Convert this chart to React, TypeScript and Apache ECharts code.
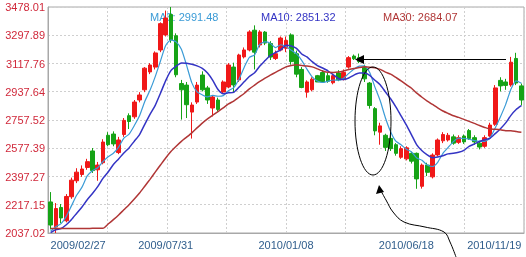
import React, { useEffect, useRef } from "react";
import * as echarts from "echarts";

const dates = [
  "2009/02/27","2009/03/06","2009/03/13","2009/03/20","2009/03/27","2009/04/03","2009/04/10","2009/04/17","2009/04/24","2009/05/01",
  "2009/05/08","2009/05/15","2009/05/22","2009/05/29","2009/06/05","2009/06/12","2009/06/19","2009/06/26","2009/07/03","2009/07/10",
  "2009/07/17","2009/07/24","2009/07/31","2009/08/07","2009/08/14","2009/08/21","2009/08/28","2009/09/04","2009/09/11","2009/09/18",
  "2009/09/25","2009/10/02","2009/10/09","2009/10/16","2009/10/23","2009/10/30","2009/11/06","2009/11/13","2009/11/20","2009/11/27",
  "2009/12/04","2009/12/11","2009/12/18","2009/12/25","2010/01/01","2010/01/08","2010/01/15","2010/01/22","2010/01/29","2010/02/05",
  "2010/02/12","2010/02/19","2010/02/26","2010/03/05","2010/03/12","2010/03/19","2010/03/26","2010/04/02","2010/04/09","2010/04/16",
  "2010/04/23","2010/04/30","2010/05/07","2010/05/14","2010/05/21","2010/05/28","2010/06/04","2010/06/11","2010/06/18","2010/06/25",
  "2010/07/02","2010/07/09","2010/07/16","2010/07/23","2010/07/30","2010/08/06","2010/08/13","2010/08/20","2010/08/27","2010/09/03",
  "2010/09/10","2010/09/17","2010/09/24","2010/10/01","2010/10/08","2010/10/15","2010/10/22","2010/10/29","2010/11/05","2010/11/12",
  "2010/11/19"
];

const opens = [
  2235,2075,2200,2115,2268,2370,2410,2455,2560,2440,
  2485,2660,2668,2550,2665,2785,2778,2885,2950,3064,
  3095,3204,3300,3430,3295,2990,2980,2808,2872,3044,
  2962,2834,2885,2936,2968,3095,3013,3160,3204,3330,
  3236,3318,3245,3150,3204,3215,3300,3180,3080,2935,
  2950,3040,3060,3040,2995,3057,3020,3095,3165,3155,
  3095,2993,2830,2680,2660,2640,2600,2520,2510,2545,
  2545,2335,2470,2395,2535,2625,2630,2650,2615,2655,
  2690,2645,2610,2590,2655,2730,3010,3000,2981,3150,
  2975
];
const closes = [
  2088,2193,2133,2270,2374,2425,2445,2492,2435,2470,
  2617,2600,2605,2630,2755,2748,2872,2917,3088,3108,
  3185,3372,3408,3268,3046,2950,2855,2853,2980,2950,
  2885,2904,2825,3000,3108,2981,3172,3204,3319,3190,
  3319,3248,3159,3180,3280,3265,3130,3050,2965,3000,
  3018,3000,3000,3005,3040,3013,3060,3155,3148,3130,
  3020,2850,2688,2720,2583,2575,2545,2575,2580,2495,
  2382,2470,2424,2534,2630,2665,2660,2610,2645,2618,
  2640,2618,2585,2645,2725,2962,2975,2978,3126,2993,
  2885
];
const lows = [
  2060,2037.02,2100,2105,2255,2355,2395,2440,2420,2370,
  2475,2590,2590,2540,2650,2700,2765,2870,2935,3050,
  3080,3190,3290,3250,3030,2760,2770,2639,2860,2940,
  2860,2780,2810,2925,2960,2930,3000,3150,3195,3080,
  3220,3235,3140,3140,3195,3190,3110,3030,2960,2900,
  2940,3000,3000,2995,2985,3005,3010,3085,3140,3120,
  3000,2830,2660,2600,2560,2560,2530,2510,2500,2480,
  2319,2320,2400,2385,2525,2610,2620,2600,2605,2605,
  2630,2600,2570,2580,2650,2720,2940,2950,2970,2980,
  2850
];
const highs = [
  2298,2228,2222,2285,2390,2450,2468,2510,2579,2490,
  2635,2680,2685,2650,2770,2800,2885,2935,3095,3120,
  3195,3380,3455,3478.01,3310,3013,3000,2870,3000,3068,
  2975,2915,2900,3010,3120,3123,3180,3220,3330,3361,
  3330,3325,3260,3200,3290,3290,3310,3200,3095,3010,
  3030,3045,3075,3060,3050,3075,3080,3165,3175,3181,
  3110,3000,2840,2740,2670,2660,2610,2590,2590,2555,
  2550,2480,2485,2545,2640,2680,2675,2665,2660,2665,
  2700,2660,2625,2660,2740,2980,3030,3020,3160,3186,
  2990
];
// weekly closes before the first visible week, used only to seed the moving averages
const priorCloses = [
  2200,2140,2260,2370,2420,2440,2490,2430,2470,2610,
  1780,1760,1740,1760,1780,1790,1770,1780,1790,1800,
  2020,2050,2030,2040,2020,2050,2030,2040,2032
];

const yTickLabels = ["2037.02","2217.15","2397.27","2577.39","2757.52","2937.64","3117.76","3297.89","3478.01"];
const xLabelIndices = [0, 22, 45, 68, 90];
const maNames = ["MA5", "MA10", "MA30"];
const maPeriods = [5, 10, 30];
const maLegendValues = ["2991.48", "2851.32", "2684.07"];
const maColors = ["#3b9bd6", "#3434c4", "#b03636"];

const Y_MIN = 2037.02;
const Y_MAX = 3478.01;
const Y_INT = (Y_MAX - Y_MIN) / 8;

function movingAverage(n: number): number[] {
  const all = [...priorCloses, ...closes];
  const p = priorCloses.length;
  return closes.map((_, i) => {
    let s = 0;
    for (let k = p + i - n + 1; k <= p + i; k++) s += all[k];
    return +(s / n).toFixed(2);
  });
}

export default function App() {
  const ref = useRef<HTMLDivElement>(null);
  useEffect(() => {
    if (!ref.current) return;
    const chart = echarts.init(ref.current, undefined, { renderer: "svg" });
    const font = "'Liberation Sans', Arial, sans-serif";
    const candleData = dates.map((_, i) => [opens[i], closes[i], lows[i], highs[i]]);
    const legendX = [150, 261, 383];

    chart.setOption({
      animation: false,
      grid: { left: 48, right: 2, top: 7, bottom: 24, show: true, borderColor: "#a8a8a8", borderWidth: 1 },
      xAxis: [
        {
          type: "category",
          data: dates,
          boundaryGap: true,
          axisLine: { show: true, lineStyle: { color: "#a8a8a8" } },
          axisTick: { show: false },
          splitLine: { show: false },
          axisLabel: {
            interval: (idx: number) => xLabelIndices.includes(idx),
            color: "#2f5d8c",
            fontSize: 11,
            fontFamily: font,
            margin: 6,
            alignMinLabel: "left",
            alignMaxLabel: "right",
          },
        },
        {
          type: "value",
          min: 0,
          max: 8,
          interval: 1,
          position: "top",
          axisLine: { show: false },
          axisTick: { show: false },
          axisLabel: { show: false },
          splitLine: { show: true, lineStyle: { color: "#cfcfcf", type: [2, 2] } },
        },
      ],
      yAxis: {
        type: "value",
        min: Y_MIN,
        max: Y_MAX,
        interval: Y_INT,
        axisLine: { show: true, lineStyle: { color: "#a8a8a8" } },
        axisTick: { show: false },
        axisLabel: {
          color: "#d0283a",
          fontSize: 11,
          fontFamily: font,
          margin: 3,
          formatter: (v: number) => yTickLabels[Math.round((v - Y_MIN) / Y_INT)] ?? "",
        },
        splitLine: { show: true, lineStyle: { color: "#cfcfcf", type: [2, 2] } },
      },
      series: [
        {
          type: "candlestick",
          data: candleData,
          barWidth: "78%",
          itemStyle: {
            color: "#f01818",
            color0: "#16a316",
            borderColor: "#f01818",
            borderColor0: "#16a316",
            borderWidth: 1,
          },
        },
        ...maPeriods.map((n, k) => ({
          type: "line",
          name: maNames[k],
          data: movingAverage(n),
          symbol: "none",
          smooth: 0.2,
          lineStyle: { color: maColors[k], width: k === 0 ? 1.2 : 1.5 },
          z: 3,
        })),
      ],
      graphic: [
        ...maNames.map((nm, k) => ({
          type: "text",
          left: legendX[k],
          top: 11,
          z: 0,
          style: { text: `${nm}: ${maLegendValues[k]}`, fill: maColors[k], font: `11px ${font}` },
        })),
        { type: "line", z: 100, shape: { x1: 506, y1: 59.5, x2: 362, y2: 59.5 }, style: { stroke: "#000", lineWidth: 1 } },
        { type: "polygon", z: 100, shape: { points: [[355, 59.5], [364, 55], [364, 64]] }, style: { fill: "#000" } },
        { type: "ellipse", z: 100, shape: { cx: 373, cy: 121, rx: 18, ry: 54 }, style: { fill: "none", stroke: "#000", lineWidth: 1 } },
        {
          type: "polyline",
          z: 100,
          shape: {
            points: [[456, 257], [450, 242], [444, 232], [425, 227], [404, 222], [393, 212], [386, 200], [381, 191]],
            smooth: 0.4,
          },
          style: { stroke: "#000", lineWidth: 1, fill: "none" },
        },
        { type: "polygon", z: 100, shape: { points: [[379, 185], [376, 194], [384, 192]] }, style: { fill: "#000" } },
      ],
    });
    return () => chart.dispose();
  }, []);
  return <div ref={ref} style={{ position: "fixed", left: 0, top: 0, width: 526, height: 257 }} />;
}
